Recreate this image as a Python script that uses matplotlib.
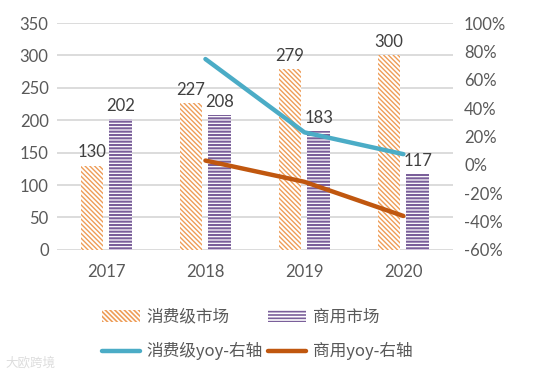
import matplotlib
matplotlib.use("Agg")
import matplotlib.pyplot as plt
import numpy as np
from matplotlib.lines import Line2D
from matplotlib.patches import Patch

years = ["2017", "2018", "2019", "2020"]
consumer = [130, 227, 279, 300]
commercial = [202, 208, 183, 117]
consumer_yoy = [None, 74.6, 22.9, 7.5]
commercial_yoy = [None, 3.0, -12.0, -36.1]
left_ticks = [0, 50, 100, 150, 200, 250, 300, 350]
right_ticks = [-60, -40, -20, 0, 20, 40, 60, 80, 100]

plt.rcParams['font.family'] = ['Lato', 'Noto Sans CJK SC', 'DejaVu Sans']
plt.rcParams['hatch.linewidth'] = 1.2

fig = plt.figure(figsize=(5.53, 3.78), dpi=100)
ax = fig.add_axes([0.103, 0.339, 0.716, 0.600])
ax2 = ax.twinx()

orange = '#EE9D58'
purple = '#7A5F9A'
teal = '#4BACC6'
brown = '#C0570F'
gray = '#595959'

oh = '\\' * 7
ph = '-' * 5

x = np.arange(len(years))
w = 0.23
b1 = ax.bar(x - 0.145, consumer, w, facecolor='white', edgecolor=orange, linewidth=0, hatch=oh)
h1 = Patch(facecolor='white', edgecolor=orange, linewidth=0, hatch=oh)
b2 = ax.bar(x + 0.145, commercial, w, facecolor='white', edgecolor=purple, linewidth=0, hatch=ph)
h2 = Patch(facecolor='white', edgecolor=purple, linewidth=0, hatch=ph)

for p in list(b1) + [h1]:
    if hasattr(p, 'set_hatch_linewidth'):
        p.set_hatch_linewidth(1.0)
for p in list(b2) + [h2]:
    if hasattr(p, 'set_hatch_linewidth'):
        p.set_hatch_linewidth(1.5)

for xi, v in zip(x - 0.145, consumer):
    ax.text(xi, v + 8, str(v), ha='center', va='bottom', fontsize=12, color='#404040')
for xi, v in zip(x + 0.145, commercial):
    ax.text(xi, v + 8, str(v), ha='center', va='bottom', fontsize=12, color='#404040')

ax.set_ylim(0, 350)
ax.set_yticks(left_ticks)
ax.set_xlim(-0.5, 3.5)
ax.set_xticks(x)
ax.set_xticklabels(years)
ax.grid(axis='y', color='#D9D9D9', linewidth=1.3)
ax.set_axisbelow(True)
for sp in ax.spines.values():
    sp.set_visible(False)
for sp in ax2.spines.values():
    sp.set_visible(False)
ax.tick_params(length=0, labelsize=12, colors=gray, pad=6)
ax.tick_params(axis='x', pad=10)

xl = x[1:]
ax2.plot(xl, consumer_yoy[1:], color=teal, linewidth=3.2, solid_capstyle='round', solid_joinstyle='round')
ax2.plot(xl, commercial_yoy[1:], color=brown, linewidth=3.2, solid_capstyle='round', solid_joinstyle='round')
ax2.set_ylim(-60, 100)
ax2.set_yticks(right_ticks)
ax2.set_yticklabels([f"{t}%" for t in right_ticks])
ax2.tick_params(length=0, labelsize=12, colors=gray, pad=8)

handles = [
    h1,
    Line2D([0], [0], color=teal, linewidth=3.2, solid_capstyle='round'),
    h2,
    Line2D([0], [0], color=brown, linewidth=3.2, solid_capstyle='round'),
]
labels = ["消费级市场", "消费级yoy-右轴", "商用市场", "商用yoy-右轴"]
leg = fig.legend(handles, labels, loc='center', bbox_to_anchor=(0.465, 0.115), ncol=2,
                 frameon=False, handlelength=2.3, handletextpad=0.4,
                 columnspacing=0.3, labelspacing=1.0, prop={'family': ['Noto Sans CJK SC', 'DejaVu Sans'], 'size': 12})
for t in leg.get_texts():
    t.set_color(gray)

fig.text(0.01, 0.03, "大欧跨境", fontsize=9, color='#DDDDDD', family=['Noto Sans CJK SC'])

fig.savefig("out.png", dpi=100)
